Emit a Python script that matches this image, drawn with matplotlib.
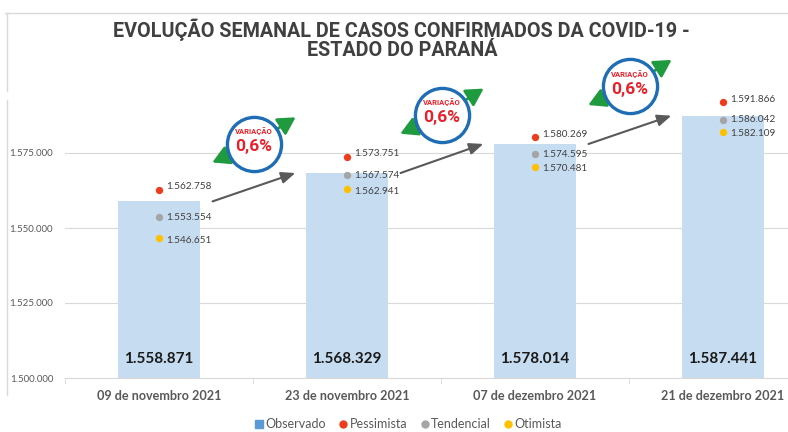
import matplotlib
matplotlib.use('Agg')
import matplotlib.pyplot as plt
from matplotlib.lines import Line2D
from matplotlib.ticker import FuncFormatter

plt.rcParams['font.family'] = ['Lato', 'DejaVu Sans']

W, H = 788, 432
NARROW = ['Roboto', 'DejaVu Sans']

categorias = ['09 de novembro 2021', '23 de novembro 2021',
              '07 de dezembro 2021', '21 de dezembro 2021']
observado = [1558871, 1568329, 1578014, 1587441]
pessimista = [1562758, 1573751, 1580269, 1591866]
tendencial = [1553554, 1567574, 1574595, 1586042]
otimista = [1546651, 1562941, 1570481, 1582109]
yticks = [1500000, 1525000, 1550000, 1575000]

cor_obs = '#c6dcf0'
cor_leg_obs = '#5b9bd5'
cor_pess = '#ee3d1d'
cor_tend = '#a5a5a5'
cor_otim = '#ffc000'


def br(v):
    return f'{v:,}'.replace(',', '.')


fig = plt.figure(figsize=(W / 100, H / 100), dpi=100)
ax = fig.add_axes([65 / W, 54 / H, 723 / W, 285 / H])

x = list(range(len(categorias)))
ax.bar(x, observado, width=0.44, color=cor_obs, zorder=2)

# cenarios
for serie, cor, dy in [(pessimista, cor_pess, 2), (tendencial, cor_tend, 0), (otimista, cor_otim, -1.5)]:
    ax.scatter(x, serie, s=28, color=cor, zorder=4, linewidths=0)
    for i, v in enumerate(serie):
        ax.annotate(br(v), (i, v), xytext=(5.5, dy), textcoords='offset points',
                    va='center', ha='left', fontsize=7.2, color='#404040', zorder=5)

# valores observados dentro das barras
for i, v in enumerate(observado):
    ax.annotate(br(v), (i, 1500000), xytext=(0, 14), textcoords='offset points',
                ha='center', va='center', fontsize=11, fontweight='bold', color='#1a1a1a', zorder=5)

# setas e circulos de variacao
for i in range(len(observado) - 1):
    ax.annotate('', xy=(i + 0.725, observado[i + 1]), xytext=(i + 0.285, observado[i]),
                arrowprops=dict(arrowstyle='-|>,head_length=0.6,head_width=0.25', color='#595959',
                                lw=1.5, shrinkA=0, shrinkB=0, mutation_scale=14), zorder=3)

    cx = i + 0.505
    cy = (observado[i] + observado[i + 1]) / 2 + 14500
    for dx, dy in [(30, 19), (-30, -13.5)]:
        ax.annotate('', xy=(cx, cy), xytext=(dx, dy), textcoords='offset points',
                    arrowprops=dict(arrowstyle='<|-,head_length=0.8,head_width=0.45', color='#1f9a3f',
                                    lw=2, shrinkA=0, shrinkB=0, mutation_scale=13),
                    zorder=6, annotation_clip=False)
    ax.plot(cx, cy, 'o', ms=39, mfc='white', mec='#1f6db5', mew=2.4, zorder=7, clip_on=False)
    pct = (observado[i + 1] - observado[i]) / observado[i] * 100
    ax.annotate('VARIAÇÃO', (cx, cy), xytext=(0, 9), textcoords='offset points', ha='center',
                va='center', fontsize=5.5, fontweight='bold', color='#e8202a', family=NARROW,
                zorder=8, annotation_clip=False)
    ax.annotate(f'{pct:.1f}%'.replace('.', ','), (cx, cy), xytext=(0, -2), textcoords='offset points',
                ha='center', va='center', fontsize=12.5, fontweight='bold', color='#e8202a',
                family=NARROW, zorder=8, annotation_clip=False)

# eixos
ax.set_xticks(x)
ax.set_xticklabels(categorias, fontweight='bold')
ax.set_xticks([-0.5, 0.5, 1.5, 2.5], minor=True)
ax.tick_params(axis='x', which='major', length=0, pad=9, labelsize=9.1, labelcolor='#595959')
ax.tick_params(axis='x', which='minor', length=4, color='#d9d9d9')
ax.set_yticks(yticks)
ax.yaxis.set_major_formatter(FuncFormatter(lambda v, p: br(int(v))))
ax.tick_params(axis='y', length=0, pad=8.6, labelsize=7, labelcolor='#595959')
ax.yaxis.grid(True, color='#d9d9d9', lw=0.8)
ax.set_axisbelow(True)
for s in ['top', 'right', 'left']:
    ax.spines[s].set_visible(False)
ax.spines['bottom'].set_color('#d9d9d9')
ax.set_ylim(1500000, 1595000)
ax.set_xlim(-0.5, -0.5 + 723 / 188)

# titulo
fig.text(401 / W, 1 - 30 / H, 'EVOLUÇÃO SEMANAL DE CASOS CONFIRMADOS DA COVID-19 -', ha='center',
         va='center', fontsize=14.2, fontweight='bold', color='#404040', family=NARROW)
fig.text(402 / W, 1 - 50 / H, 'ESTADO DO PARANÁ', ha='center', va='center', fontsize=14.2,
         fontweight='bold', color='#404040', family=NARROW)

# moldura
fig.add_artist(Line2D([5 / W, 1], [1 - 13 / H] * 2, color='#d9d9d9', lw=1, transform=fig.transFigure))
fig.add_artist(Line2D([7 / W] * 2, [1 - 13 / H, 1 - 91 / H], color='#d9d9d9', lw=1, transform=fig.transFigure))
fig.add_artist(Line2D([7 / W] * 2, [1 - 100 / H, 1 - 395 / H], color='#d9d9d9', lw=1, transform=fig.transFigure))

# legenda
handles = [
    Line2D([], [], marker='s', ls='', color=cor_leg_obs, ms=6),
    Line2D([], [], marker='o', ls='', color=cor_pess, ms=5),
    Line2D([], [], marker='o', ls='', color=cor_tend, ms=5),
    Line2D([], [], marker='o', ls='', color=cor_otim, ms=5),
]
fig.legend(handles, ['Observado', 'Pessimista', 'Tendencial', 'Otimista'], loc='center',
           bbox_to_anchor=(408 / W, 8 / H), ncol=4, frameon=False, handletextpad=0.1,
           columnspacing=1.0, handlelength=0.8, fontsize=9, labelcolor='#595959')

fig.savefig('out.png', dpi=100)
